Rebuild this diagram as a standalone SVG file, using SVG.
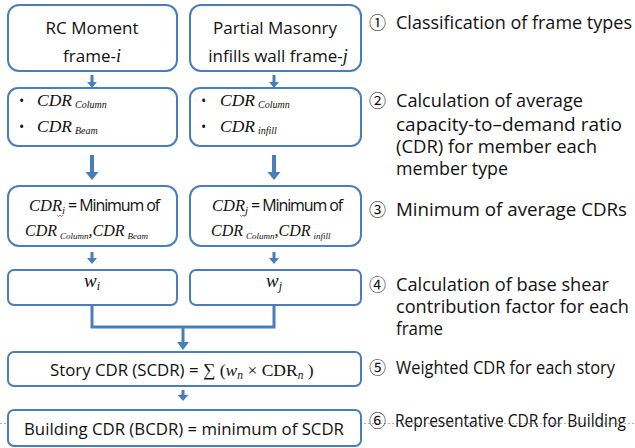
<svg xmlns="http://www.w3.org/2000/svg" width="635" height="448" viewBox="0 0 635 448">
<style>
.box{fill:#fff;stroke:#4a7ebb;stroke-width:2}
.arr{fill:#4a7ebb}
.ln{fill:none;stroke:#4a7ebb;stroke-width:3}
.s{font-family:"Open Sans","Noto Sans",sans-serif;fill:#111}
.m{font-family:"Liberation Serif","DejaVu Serif",serif;font-style:italic;fill:#111}
.mu{font-family:"Liberation Serif","DejaVu Serif",serif;fill:#111}
.lab{font-family:"Open Sans","Noto Sans CJK KR",sans-serif;font-size:17.5px;fill:#111}
.num{font-family:"Noto Sans CJK KR","DejaVu Sans",sans-serif;font-size:17px;fill:#111}
</style>
<line x1="0" y1="423.5" x2="635" y2="423.5" stroke="#9a9a9a" stroke-width="0.8" stroke-dasharray="2 2"/>
<g id="connectors">
<path class="arr" d="M90.5 75H93.5V82H97L92 88L87 82H90.5Z"/>
<path class="arr" d="M272.5 75H275.5V82H279L274 88L269 82H272.5Z"/>
<path class="arr" d="M90 155H94V172H98.5L92 180L85.5 172H90Z"/>
<path class="arr" d="M272 155H276V172H280.5L274 180L267.5 172H272Z"/>
<path class="arr" d="M90.5 252H93.5V258H97L92 264L87 258H90.5Z"/>
<path class="arr" d="M272.5 252H275.5V258H279L274 264L269 258H272.5Z"/>
<path class="ln" d="M92 305V327H274V305"/>
<path class="arr" d="M181.5 327H184.5V342H189L183 350L177 342H181.5Z"/>
<path class="arr" d="M181.5 390H184.5V395H188.5L183 401L177.5 395H181.5Z"/>
</g>
<g id="n1a"><rect class="box" x="8" y="5" width="169" height="66" rx="11"/>
<text class="s" x="92" y="34" font-size="17" text-anchor="middle">RC Moment</text>
<text class="s" x="92" y="62" font-size="17" text-anchor="middle">frame-<tspan class="m" font-size="18">i</tspan></text></g>
<g id="n1b"><rect class="box" x="190" y="5" width="171" height="66" rx="11"/>
<text class="s" x="275" y="34" font-size="17" text-anchor="middle">Partial Masonry</text>
<text class="s" x="278" y="62" font-size="17" text-anchor="middle">infills wall frame-<tspan class="m" font-size="18">j</tspan></text></g>
<g id="n2a"><rect class="box" x="8" y="88" width="169" height="58" rx="10"/>
<text class="s" x="19" y="106" font-size="14">•</text><text class="m" x="37" y="106" font-size="17.5">CDR<tspan font-size="10" dx="3" dy="2">Column</tspan></text>
<text class="s" x="19" y="132" font-size="14">•</text><text class="m" x="37" y="132" font-size="17.5">CDR<tspan font-size="10" dx="3" dy="2">Beam</tspan></text></g>
<g id="n2b"><rect class="box" x="190" y="88" width="171" height="58" rx="10"/>
<text class="s" x="201" y="106" font-size="14">•</text><text class="m" x="220" y="106" font-size="17.5">CDR<tspan font-size="10" dx="3" dy="2">Column</tspan></text>
<text class="s" x="201" y="132" font-size="14">•</text><text class="m" x="220" y="132" font-size="17.5">CDR<tspan font-size="10" dx="3" dy="2">infill</tspan></text></g>
<g id="n3a"><rect class="box" x="8" y="186" width="169" height="60" rx="11"/>
<text x="29" y="211"><tspan class="m" font-size="16.5">CDR</tspan><tspan class="m" font-size="11" dy="3">i</tspan><tspan class="s" font-size="16" dy="-3" letter-spacing="-1.1"> = Minimum of</tspan></text>
<path d="M57 215l1.5 1.5 1.5-1.5 1.5 1.5 1.5-1.5" fill="none" stroke="#e03030" stroke-width="0.8"/>
<text x="25" y="236"><tspan class="m" font-size="16">CDR</tspan><tspan class="m" font-size="9" dx="3" dy="3">Column</tspan><tspan class="m" font-size="16" dy="-3">,CDR</tspan><tspan class="m" font-size="9" dx="3" dy="3">Beam</tspan></text></g>
<g id="n3b"><rect class="box" x="190" y="186" width="171" height="60" rx="11"/>
<text x="212" y="211"><tspan class="m" font-size="16.5">CDR</tspan><tspan class="m" font-size="11" dy="3">j</tspan><tspan class="s" font-size="16" dy="-3" letter-spacing="-1.1"> = Minimum of</tspan></text>
<path d="M240 215l1.5 1.5 1.5-1.5 1.5 1.5 1.5-1.5" fill="none" stroke="#e03030" stroke-width="0.8"/>
<text x="211" y="236"><tspan class="m" font-size="16">CDR</tspan><tspan class="m" font-size="9" dx="3" dy="3">Column</tspan><tspan class="m" font-size="16" dy="-3">,CDR</tspan><tspan class="m" font-size="9" dx="3" dy="3">infill</tspan></text></g>
<g id="n4a"><rect class="box" x="8" y="270" width="169" height="35" rx="6"/>
<text x="84" y="287"><tspan class="m" font-size="19">w</tspan><tspan class="m" font-size="12" dy="3">i</tspan></text></g>
<g id="n4b"><rect class="box" x="190" y="270" width="171" height="35" rx="6"/>
<text x="266" y="287"><tspan class="m" font-size="19">w</tspan><tspan class="m" font-size="12" dy="3">j</tspan></text></g>
<g id="n5"><rect class="box" x="8" y="352" width="353" height="34" rx="6"/>
<text x="50" y="376"><tspan class="s" font-size="16.8">Story CDR (SCDR) = </tspan><tspan class="mu" font-size="17.5">∑ (</tspan><tspan class="m" font-size="17.5">w</tspan><tspan class="m" font-size="11.5" dy="3">n</tspan><tspan class="mu" font-size="17.5" dy="-3"> × CDR</tspan><tspan class="m" font-size="11.5" dy="3">n</tspan><tspan class="mu" font-size="17.5" dy="-3"> )</tspan></text></g>
<g id="n6"><rect class="box" x="8" y="410" width="353" height="36" rx="6"/>
<text class="s" x="184" y="435" font-size="16.8" text-anchor="middle">Building CDR (BCDR) = minimum of SCDR</text></g>
<g id="labels">
<text class="num" x="369" y="29">①</text><text class="lab" x="396" y="29" textLength="236" lengthAdjust="spacingAndGlyphs">Classification of frame types</text>
<text class="num" x="369" y="107">②</text><text class="lab" x="396" y="107" textLength="187" lengthAdjust="spacingAndGlyphs">Calculation of average</text>
<text class="lab" x="396" y="131" textLength="226" lengthAdjust="spacingAndGlyphs">capacity-to–demand ratio</text>
<text class="lab" x="396" y="153" textLength="201" lengthAdjust="spacingAndGlyphs">(CDR) for member each</text>
<text class="lab" x="396" y="175" textLength="112" lengthAdjust="spacingAndGlyphs">member type</text>
<text class="num" x="369" y="216">③</text><text class="lab" x="396" y="216" textLength="231" lengthAdjust="spacingAndGlyphs">Minimum of average CDRs</text>
<text class="num" x="369" y="291">④</text><text class="lab" x="396" y="291" textLength="213" lengthAdjust="spacingAndGlyphs">Calculation of base shear</text>
<text class="lab" x="396" y="313" textLength="233" lengthAdjust="spacingAndGlyphs">contribution factor for each</text>
<text class="lab" x="396" y="335" textLength="47" lengthAdjust="spacingAndGlyphs">frame</text>
<text class="num" x="369" y="374">⑤</text><text class="lab" x="396" y="374" textLength="219" lengthAdjust="spacingAndGlyphs">Weighted CDR for each story</text>
<text class="num" x="369" y="427">⑥</text><text class="lab" x="395" y="427" font-size="15.5" textLength="231" lengthAdjust="spacingAndGlyphs">Representative CDR for Building</text>
</g>
</svg>
